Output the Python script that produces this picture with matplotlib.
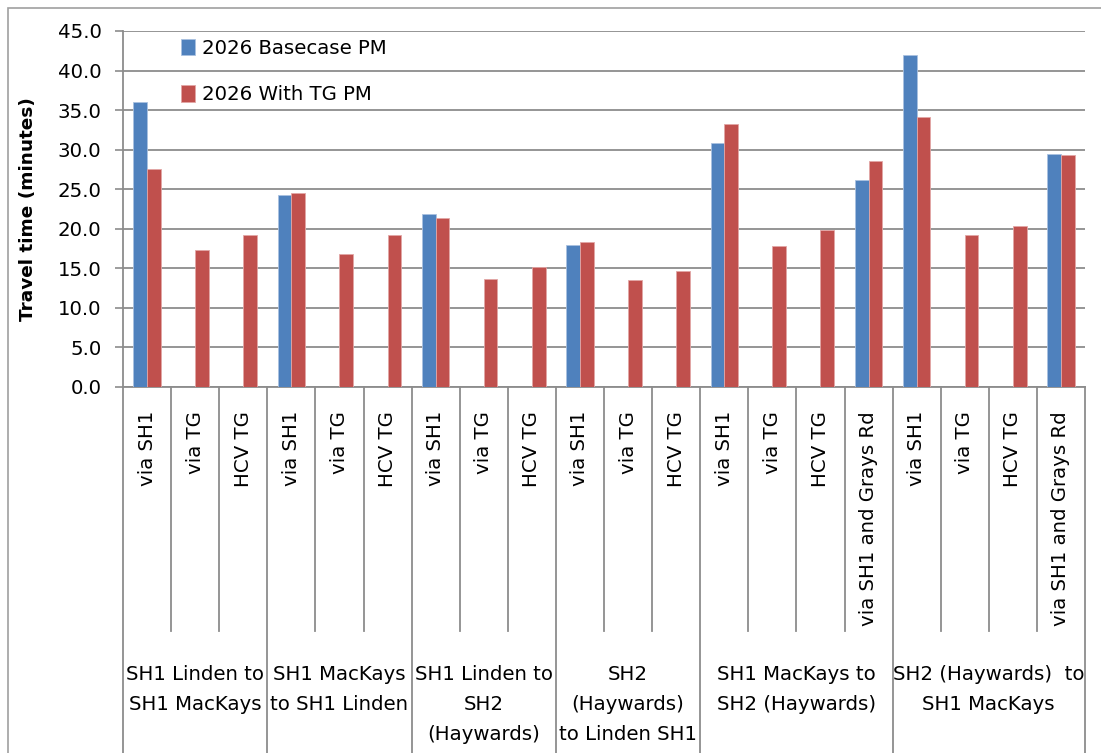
import numpy as np
import matplotlib
matplotlib.use("Agg")
import matplotlib.pyplot as plt
from matplotlib.patches import Rectangle
from matplotlib.transforms import blended_transform_factory

plt.rcParams['font.family'] = ['DejaVu Sans']

# ---- data -------------------------------------------------------------
route_options = ["via SH1", "via TG", "HCV TG"] * 4 + \
                ["via SH1", "via TG", "HCV TG", "via SH1 and Grays Rd"] * 2
corridors = ["SH1 Linden to\nSH1 MacKays",
             "SH1 MacKays\nto SH1 Linden",
             "SH1 Linden to\nSH2\n(Haywards)",
             "SH2\n(Haywards)\nto Linden SH1",
             "SH1 MacKays to\nSH2 (Haywards)",
             "SH2 (Haywards)  to\nSH1 MacKays"]
corridor_sizes = [3, 3, 3, 3, 4, 4]

basecase_pm = [36.0, np.nan, np.nan, 24.3, np.nan, np.nan, 21.9, np.nan, np.nan,
               18.0, np.nan, np.nan, 30.8, np.nan, np.nan, 26.2,
               42.0, np.nan, np.nan, 29.5]
with_tg_pm = [27.6, 17.3, 19.2, 24.5, 16.8, 19.2, 21.4, 13.7, 15.2,
              18.3, 13.5, 14.7, 33.2, 17.8, 19.8, 28.6,
              34.1, 19.2, 20.4, 29.3]
series_names = ["2026 Basecase PM", "2026 With TG PM"]
y_ticks = np.arange(0, 45.1, 5)

# ---- figure -----------------------------------------------------------
W, H = 1101, 753
fig = plt.figure(figsize=(W / 100, H / 100), dpi=100)
L, R, T, B = 123, 1085, 31, 387
ax = fig.add_axes([L / W, 1 - B / H, (R - L) / W, (B - T) / H])

# outer chart frame
fig.patches.append(Rectangle((8 / W, -0.1), 1.2, 1.1 - 8 / H,
                             transform=fig.transFigure, fill=False,
                             ec="#A0A0A0", lw=1.2, zorder=0))

blue, red = "#4F81BD", "#C0504D"
grid_c = "#8C8C8C"
fs = 14.2

x = np.arange(len(route_options))
bw = 0.285
ax.bar(x - bw / 2, basecase_pm, bw, color=blue, edgecolor="#A9C1E0",
       linewidth=0.6, label=series_names[0], zorder=3)
ax.bar(x + bw / 2, with_tg_pm, bw, color=red, edgecolor="#E2A6A5",
       linewidth=0.6, label=series_names[1], zorder=3)

ax.set_xlim(-0.5, len(route_options) - 0.5)
ax.set_ylim(0, 45)
ax.set_yticks(y_ticks)
ax.set_yticklabels([f"{v:.1f}" for v in y_ticks], fontsize=fs)
ax.tick_params(axis="y", length=6, width=1.2, color=grid_c, pad=9.5)
ax.set_xticks([])
ax.yaxis.grid(True, color=grid_c, lw=1.3)
ax.set_axisbelow(True)
for s in ("top", "right"):
    ax.spines[s].set_visible(False)
for s in ("left", "bottom"):
    ax.spines[s].set_color(grid_c)
    ax.spines[s].set_linewidth(1.3)

ax.set_ylabel("Travel time (minutes)", fontsize=13.3, fontweight="bold")
ax.yaxis.set_label_coords(-0.089, 0.5)

# ---- two-level category axis -----------------------------------------
tr = blended_transform_factory(ax.transData, ax.transAxes)
px = 1.0 / (B - T)          # one pixel in axes-fraction units
inner_bottom = -(631 - B) * px
outer_bottom = -(770 - B) * px

group_edges = np.cumsum([0] + corridor_sizes)
for k in range(len(route_options) + 1):
    yb = outer_bottom if k in group_edges else inner_bottom
    ax.plot([k - 0.5, k - 0.5], [0, yb], transform=tr, color=grid_c,
            lw=1.3, clip_on=False, zorder=1)

for i, lab in enumerate(route_options):
    ax.text(i, -(411 - B) * px, lab, transform=tr, rotation=90,
            ha="center", va="top", fontsize=fs)

for g, name in enumerate(corridors):
    c = group_edges[g] + (corridor_sizes[g] - 1) / 2
    ax.text(c, -(665 - B) * px, name, transform=tr, ha="center", va="top",
            fontsize=fs, linespacing=1.75)

# ---- legend -----------------------------------------------------------
ax.legend(loc="upper left", bbox_to_anchor=(181 / W, 1 - 39 / H),
          bbox_transform=fig.transFigure, frameon=False, fontsize=fs,
          borderpad=0, borderaxespad=0, handlelength=0.72,
          handleheight=0.9, handletextpad=0.36, labelspacing=1.38)

fig.savefig("out.png", dpi=100)
